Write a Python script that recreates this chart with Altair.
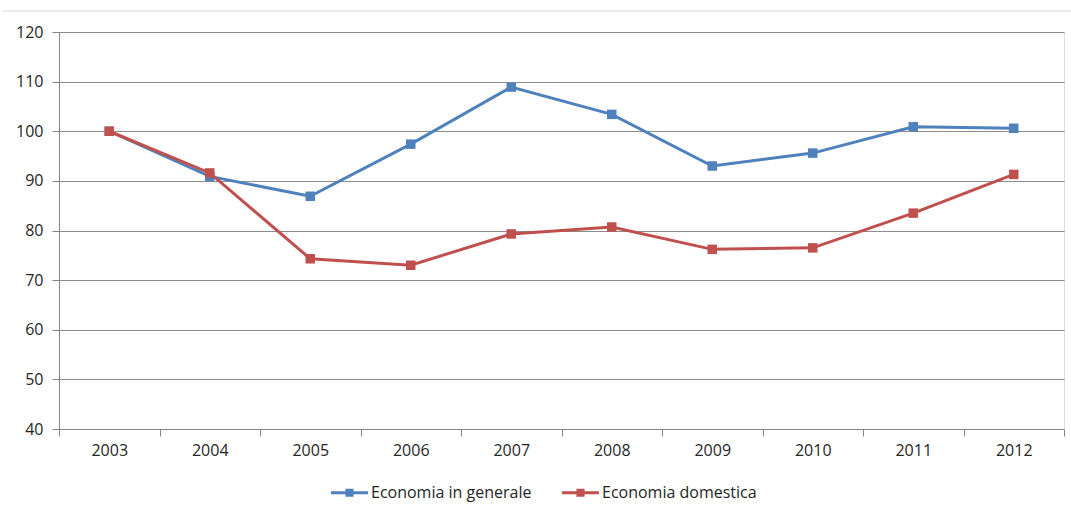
import altair as alt
import pandas as pd

years = ["2003", "2004", "2005", "2006", "2007", "2008", "2009", "2010", "2011", "2012"]
generale = [100.0, 90.9, 86.9, 97.4, 108.9, 103.4, 93.0, 95.6, 100.9, 100.6]
domestica = [100.0, 91.6, 74.3, 73.0, 79.3, 80.7, 76.2, 76.5, 83.5, 91.3]
series_names = ["Economia in generale", "Economia domestica"]
colors = ["#4F81BD", "#C0504D"]

rows = []
for y, v in zip(years, generale):
    rows.append({"year": y, "value": v, "series": series_names[0]})
for y, v in zip(years, domestica):
    rows.append({"year": y, "value": v, "series": series_names[1]})
df = pd.DataFrame(rows)

FONT = "Open Sans"
FS = 16
legend_symbol = ("M-1,-0.075L1,-0.075L1,0.075L-1,0.075Z "
                 "M-0.22,-0.22L0.22,-0.22L0.22,0.22L-0.22,0.22Z")

x_enc = alt.X(
    "year:O",
    title=None,
    bandPosition=0.5,
    scale=alt.Scale(type="band", paddingInner=0, paddingOuter=0),
    axis=alt.Axis(
        tickBand="extent", labelAngle=0, domainColor="#868686", tickColor="#868686",
        tickSize=7, labelPadding=6, labelFontSize=FS, labelColor="#262626",
        labelFont=FONT, grid=False,
    ),
)
y_enc = alt.Y(
    "value:Q",
    title=None,
    scale=alt.Scale(domain=[40, 120], nice=False, zero=False),
    axis=alt.Axis(
        values=list(range(40, 121, 10)), grid=True, gridColor="#8C8C8C", gridWidth=1,
        domainColor="#868686", tickColor="#868686", tickSize=7, labelPadding=9,
        labelFontSize=FS, labelColor="#262626", labelFont=FONT,
    ),
)
color_enc = alt.Color(
    "series:N",
    scale=alt.Scale(domain=series_names, range=colors),
    legend=alt.Legend(
        title=None, orient="none", direction="horizontal", legendX=272, legendY=442,
        symbolType=legend_symbol, symbolSize=1369, symbolStrokeWidth=0,
        labelFontSize=FS, labelColor="#262626", labelFont=FONT, labelOffset=3,
        labelLimit=400, columnPadding=30,
    ),
)


def series_layer(name):
    base = alt.Chart(df).transform_filter(alt.datum.series == name)
    line = base.mark_line(strokeWidth=3).encode(x=x_enc, y=y_enc, color=color_enc)
    pts = base.mark_point(shape="square", filled=True, size=90, opacity=1).encode(
        x=x_enc, y=y_enc, color=color_enc
    )
    return line + pts


top_rule = alt.Chart(pd.DataFrame({"a": [0]})).mark_rule(color="#D9D9D9", strokeWidth=1).encode(
    x=alt.value(-57), x2=alt.value(1069), y=alt.value(-21)
)

chart = alt.layer(series_layer(series_names[0]), series_layer(series_names[1]), top_rule).properties(
    width=1005, height=397,
    autosize=alt.AutoSizeParams(type="none"),
    padding={"left": 59, "top": 32, "right": 7, "bottom": 83},
).configure_view(stroke=None).configure(background="white")

chart.save("out.html", embed_options={"renderer": "svg", "actions": False})
